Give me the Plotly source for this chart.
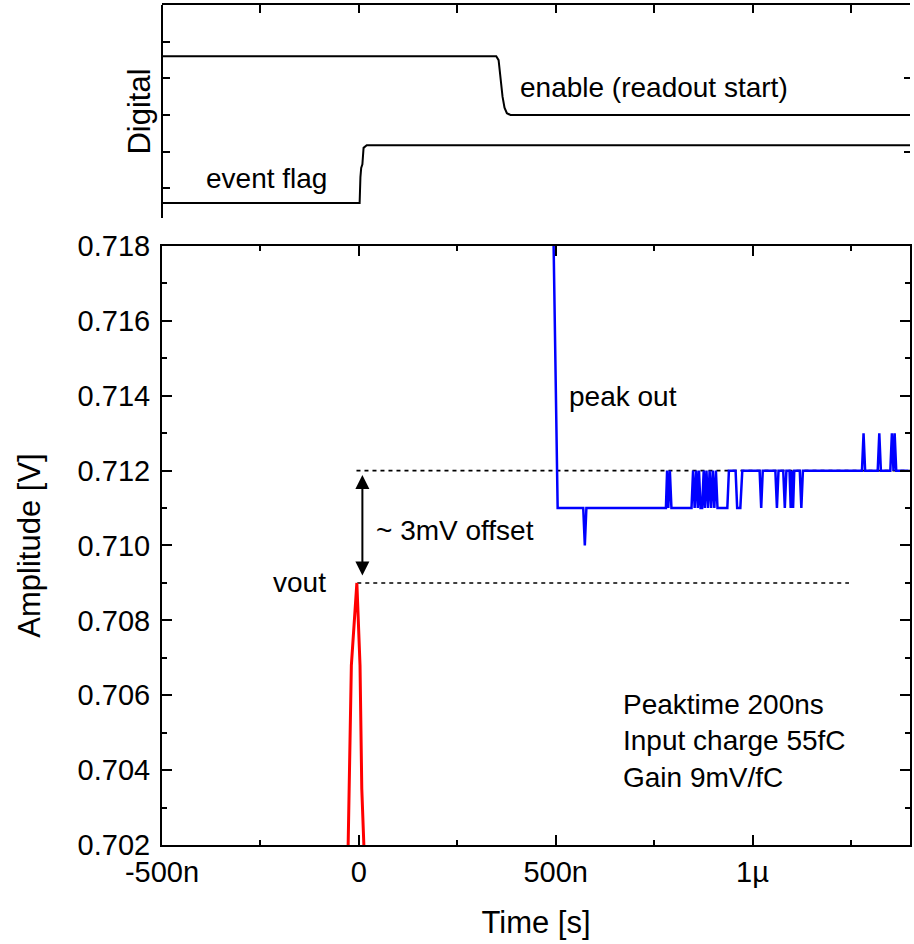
import plotly.graph_objects as go

# ---------------- data ----------------
# time in ns, amplitude in V
vout_t = [-28, -19, -5, 3, 7.5, 14.5]
vout_v = [0.7015, 0.7068, 0.7090, 0.7068, 0.7035, 0.7015]

peak_t = [493, 505, 570, 574, 578,
          780, 783, 786, 790, 794,
          845, 849, 853, 857, 861, 864, 868, 872, 876, 879, 883, 887, 891,
          895, 899, 903, 907, 911,
          936, 940, 957, 961, 969, 974,
          1018, 1022, 1026, 1058, 1062, 1066, 1078, 1082, 1086,
          1094, 1097, 1100, 1103, 1106, 1120, 1124, 1128,
          1278, 1282, 1286, 1318, 1322, 1326, 1350, 1354, 1358, 1361, 1365, 1396]
peak_v = [0.7192, 0.711, 0.711, 0.710, 0.711,
          0.711, 0.712, 0.711, 0.712, 0.711,
          0.711, 0.712, 0.711, 0.712, 0.711, 0.712, 0.711, 0.711, 0.712, 0.711, 0.712, 0.711, 0.712,
          0.711, 0.712, 0.711, 0.712, 0.711,
          0.711, 0.712, 0.712, 0.711, 0.711, 0.712,
          0.712, 0.711, 0.712, 0.712, 0.711, 0.712, 0.712, 0.711, 0.712,
          0.712, 0.711, 0.712, 0.711, 0.712, 0.712, 0.711, 0.712,
          0.712, 0.713, 0.712, 0.712, 0.713, 0.712, 0.712, 0.713, 0.712, 0.713, 0.712, 0.712]

# digital signals (arbitrary units)
enable_t = [-500, 349, 355, 360, 365, 370, 376, 385, 1400]
enable_v = [3.61, 3.61, 3.5, 3.0, 2.5, 2.2, 2.05, 2.0, 2.0]
flag_t = [-500, 2, 4, 6, 9, 12, 20, 1400]
flag_v = [-0.41, -0.41, 0.3, 0.55, 0.65, 1.1, 1.17, 1.17]

offset_top = 0.712
offset_bottom = 0.709
dotted_top_t = [-6, 1400]
dotted_bottom_t = [-4, 1245]

x_ticks = [-500e-9, 0, 500e-9, 1e-6]
x_ticktext = ["-500n", "0", "500n", "1\u00b5"]

ns = 1e-9
FONT = "Liberation Sans, Arial, sans-serif"

fig = go.Figure()

# main panel traces
fig.add_trace(go.Scatter(x=[t * ns for t in dotted_top_t], y=[offset_top] * 2, mode="lines",
                         line=dict(color="black", width=1.6, dash="4px,4px"), xaxis="x", yaxis="y"))
fig.add_trace(go.Scatter(x=[t * ns for t in dotted_bottom_t], y=[offset_bottom] * 2, mode="lines",
                         line=dict(color="black", width=1.6, dash="4px,4px"), xaxis="x", yaxis="y"))
fig.add_trace(go.Scatter(x=[t * ns for t in peak_t], y=peak_v, mode="lines",
                         line=dict(color="#0000ff", width=2.5), xaxis="x", yaxis="y"))
fig.add_trace(go.Scatter(x=[t * ns for t in vout_t], y=vout_v, mode="lines",
                         line=dict(color="#ff0000", width=3), xaxis="x", yaxis="y"))

# digital panel traces
fig.add_trace(go.Scatter(x=[t * ns for t in enable_t], y=enable_v, mode="lines",
                         line=dict(color="black", width=2), xaxis="x2", yaxis="y2"))
fig.add_trace(go.Scatter(x=[t * ns for t in flag_t], y=flag_v, mode="lines",
                         line=dict(color="black", width=2), xaxis="x2", yaxis="y2"))

xr = [-500e-9, 1.4e-6]
axis_common = dict(showline=True, linecolor="black", linewidth=2, ticks="inside",
                   tickcolor="black", tickwidth=2, showgrid=False, zeroline=False,
                   automargin=False)

fig.update_layout(
    width=914, height=944,
    margin=dict(l=162, r=4, t=5, b=99),
    paper_bgcolor="white", plot_bgcolor="white",
    showlegend=False,
    font=dict(family=FONT, color="black", size=28),
    xaxis=dict(domain=[0, 1], range=xr, anchor="y", mirror="ticks",
               tickvals=x_ticks, ticktext=x_ticktext, ticklen=10,
               tickfont=dict(size=29),
               minor=dict(tickvals=[-250e-9, 250e-9, 750e-9, 1.25e-6], ticklen=5,
                          ticks="inside", tickcolor="black", tickwidth=2),
               title=dict(text="Time [s]", font=dict(size=31), standoff=25),
               **axis_common),
    yaxis=dict(domain=[0, 0.7131], range=[0.702, 0.718], anchor="x", mirror="ticks",
               dtick=0.002, tick0=0.702, tickformat=".3f", ticklen=10,
               tickfont=dict(size=29), ticklabelstandoff=4,
               minor=dict(dtick=0.001, ticklen=5, ticks="inside", tickcolor="black", tickwidth=2),
               title=dict(text="Amplitude [V]", font=dict(size=31), standoff=28),
               **axis_common),
    xaxis2=dict(domain=[0, 1], range=xr, anchor="y2", side="top",
                dtick=250e-9, tick0=0, ticklen=8, showticklabels=False,
                **axis_common),
    yaxis2=dict(domain=[0.7464, 1.0], range=[-0.82, 5.01], anchor="free", position=0,
                tickvals=[0, 1, 2, 3, 4], ticklen=7, showticklabels=False,
                title=dict(text="Digital", font=dict(size=31), standoff=0),
                **axis_common),
    yaxis3=dict(domain=[0.7464, 1.0], range=[-0.82, 5.01], overlaying="y2", side="right",
                anchor="x2", tickvals=[1, 3], ticklen=6, ticks="inside", tickcolor="black",
                tickwidth=2, showticklabels=False, showline=False, showgrid=False, zeroline=False,
                automargin=False),
)
# dummy trace to activate yaxis3
fig.add_trace(go.Scatter(x=[None], y=[None], xaxis="x2", yaxis="y3", showlegend=False))

ann_font = dict(family=FONT, size=28, color="black")
fig.add_annotation(x=-234e-9, y=0.27, xref="x2", yref="y2", text="event flag",
                   showarrow=False, font=ann_font)
fig.add_annotation(x=750e-9, y=2.74, xref="x2", yref="y2", text="enable (readout start)",
                   showarrow=False, font=ann_font)
fig.add_annotation(x=672e-9, y=0.71397, xref="x", yref="y", text="peak out",
                   showarrow=False, font=ann_font)
fig.add_annotation(x=-151e-9, y=0.7090, xref="x", yref="y", text="vout",
                   showarrow=False, font=ann_font)
fig.add_annotation(x=245e-9, y=0.71041, xref="x", yref="y", text="~ 3mV offset",
                   showarrow=False, font=ann_font)
fig.add_annotation(x=665e-9, y=0.70478, xref="x", yref="y",
                   text="Peaktime 200ns<br>Input charge 55fC<br>Gain 9mV/fC",
                   showarrow=False, font=ann_font, xanchor="left", align="left")
# double-headed offset arrow
fig.add_annotation(x=9e-9, y=0.71188, ax=9e-9, ay=0.70916, xref="x", yref="y",
                   axref="x", ayref="y", text="", showarrow=True, arrowside="end+start",
                   arrowhead=2, arrowsize=1.4, arrowwidth=2, arrowcolor="black",
                   standoff=0, startstandoff=0)

fig.write_html("out.html")
